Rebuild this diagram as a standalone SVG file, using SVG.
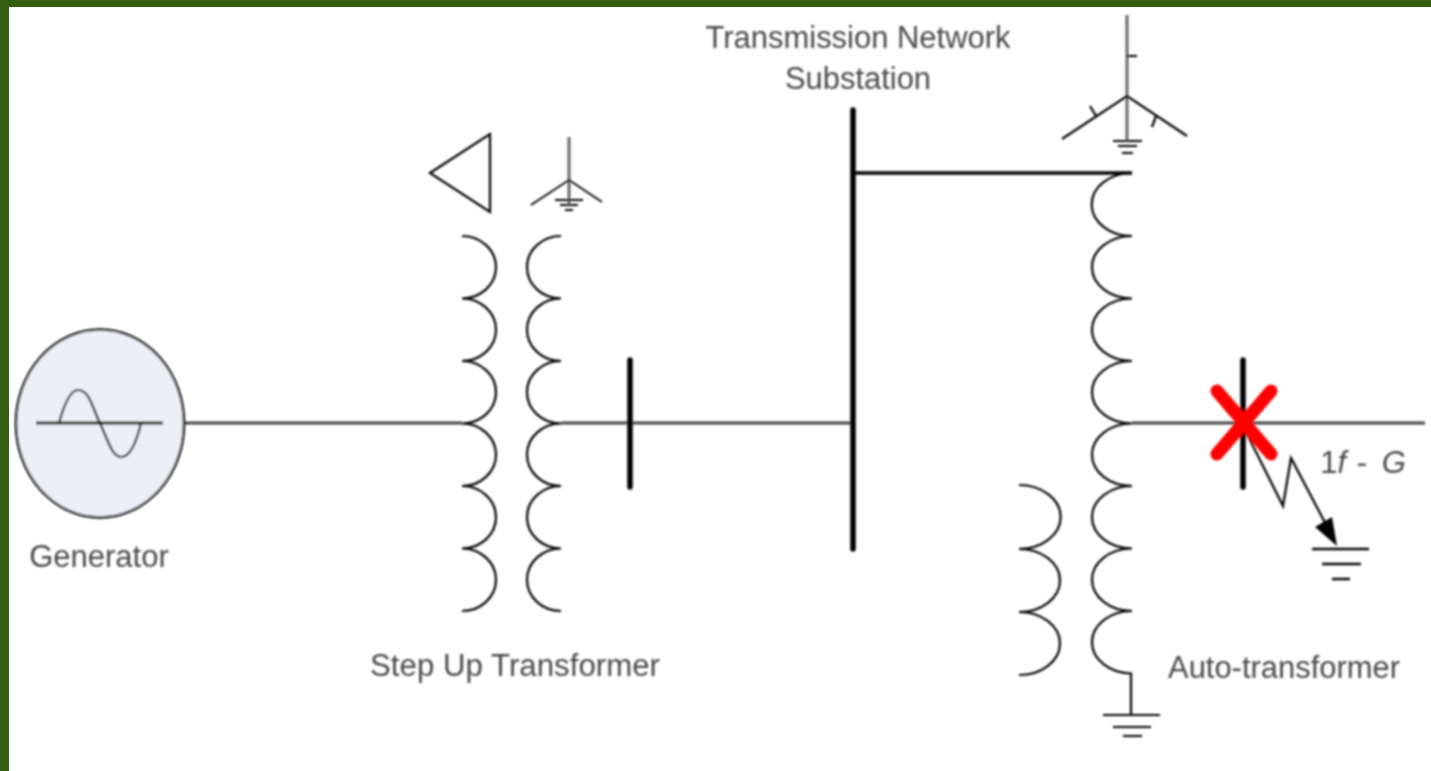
<svg xmlns="http://www.w3.org/2000/svg" width="1431" height="771" viewBox="0 0 1431 771">
<style>
.w{fill:none;stroke:#000;stroke-width:2.200;stroke-linecap:butt;stroke-linejoin:miter}
.g{fill:none;stroke:#444;stroke-width:3}
.k{fill:none;stroke:#000;stroke-width:3.500}
.b{fill:none;stroke:#000;stroke-linecap:round}
text{font-family:"Liberation Sans",Arial,sans-serif;fill:#4a4a4a;font-size:31px;text-anchor:middle}
</style>
<defs>
<filter id="soft" x="-2%" y="-2%" width="104%" height="104%"><feGaussianBlur stdDeviation="0.8"/></filter>
</defs>
<rect width="1431" height="771" fill="#fff"/>
<g filter="url(#soft)">
<g id="connectors">
<path class="g" d="M184 423H462M561 423H853M1132 423H1425"/>
<path class="k" d="M853 173H1132"/>
<path class="w" d="M1245 430L1283 506L1291 458L1331 534"/>
<path d="M1337 546L1315 527L1332 517Z" fill="#000"/>
<path class="w" d="M1131 673V715"/>
</g>
<g id="generator">
<ellipse cx="100" cy="423.500" rx="84" ry="94" fill="#ecf0f6" stroke="#111" stroke-width="2.500"/>
<path class="g" d="M36 423H163" style="stroke:#222"/>
<path class="w" d="M59 423C64 405 70 390 78 390C90 390 93 410 100 423C107 438 112 457 121 457C131 457 137 440 141 423"/>
<text x="99" y="567">Generator</text>
</g>
<g id="step-up-transformer">
<path class="w" d="M430 173L490 134V212Z"/>
<path class="w" d="M462 236A34 31.250 0 0 1 462 298.500A34 31.250 0 0 1 462 361A34 31.250 0 0 1 462 423.500A34 31.250 0 0 1 462 486A34 31.250 0 0 1 462 548.500A34 31.250 0 0 1 462 611"/>
<path class="w" d="M561 236A34 31.250 0 0 0 561 298.500A34 31.250 0 0 0 561 361A34 31.250 0 0 0 561 423.500A34 31.250 0 0 0 561 486A34 31.250 0 0 0 561 548.500A34 31.250 0 0 0 561 611"/>
<path class="g" d="M569 137V205" style="stroke:#666"/>
<path class="w" d="M531 205L569 180L602 202" style="stroke-width:1.800"/>
<path class="w" d="M555 200H583M560 205H578M565 210H573"/>
<text x="515" y="676" textLength="290" lengthAdjust="spacingAndGlyphs">Step Up Transformer</text>
</g>
<g id="bus-low">
<path class="b" stroke-width="5.500" d="M630 360V487"/>
</g>
<g id="transmission-substation">
<path class="b" stroke-width="5.500" d="M853 110V549"/>
<text x="858" y="48" textLength="305" lengthAdjust="spacingAndGlyphs">Transmission Network</text>
<text x="858" y="89" textLength="146" lengthAdjust="spacingAndGlyphs">Substation</text>
</g>
<g id="auto-transformer">
<path class="g" d="M1127 15V141" style="stroke:#666"/>
<path class="w" d="M1062 139L1127 96L1187 136M1127 56H1137M1090 106L1096 116M1156 116L1152 127"/>
<path class="w" d="M1113 141H1142M1118 146H1137M1122 153H1133"/>
<path class="w" d="M1132 173A40 31.250 0 0 0 1132 236A40 31.250 0 0 0 1132 298.500A40 31.250 0 0 0 1132 361A40 31.250 0 0 0 1132 423.500A40 31.250 0 0 0 1132 486A40 31.250 0 0 0 1132 548.500A40 31.250 0 0 0 1132 611A40 31.250 0 0 0 1132 673.500"/>
<path class="w" d="M1019 485A41 31.500 0 0 1 1019 549A41 31.500 0 0 1 1019 612A41 31.500 0 0 1 1019 675"/>
<path class="w" d="M1103 715H1160M1113 727H1151M1123 736H1142"/>
<text x="1284" y="678" textLength="232" lengthAdjust="spacingAndGlyphs">Auto-transformer</text>
</g>
<g id="fault">
<path class="b" stroke-width="5.500" d="M1243 360V487"/>
<path d="M1217 391L1271 454M1271 391L1217 454" fill="none" stroke="#f00" stroke-width="13" stroke-linecap="round"/>
<path class="w" d="M1312 549H1369M1322 564H1361M1332 579H1350" style="stroke-width:2.500"/>
<text x="1363" y="473">1<tspan font-style="italic">f</tspan> <tspan dx="2">-</tspan> <tspan dx="6" font-style="italic">G</tspan></text>
</g>
</g>
<g id="frame">
<rect width="1431" height="7" fill="#365e13"/>
<rect width="9" height="771" fill="#365e13"/>
</g>
</svg>
